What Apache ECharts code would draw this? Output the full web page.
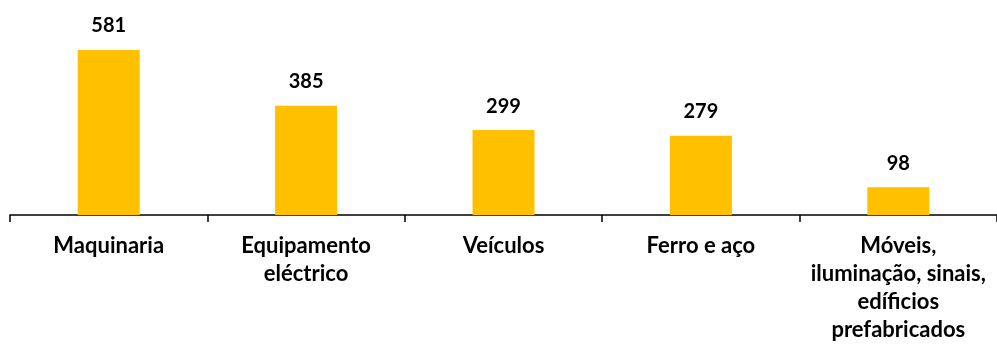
<!DOCTYPE html>
<html><head><meta charset="utf-8">
<script src="https://cdn.jsdelivr.net/npm/echarts@6/dist/echarts.min.js"></script>
<style>html,body{margin:0;padding:0;background:#fff}#c{width:997px;height:345px}</style>
</head><body><div id="c"></div>
<script>
const categories = ["Maquinaria", "Equipamento\neléctrico", "Veículos", "Ferro e aço", "Móveis,\niluminação, sinais,\nedíficios\nprefabricados"];
const values = [581, 385, 299, 279, 98];

const chart = echarts.init(document.getElementById('c'));
chart.setOption({
  animation: false,
  grid: {left: 10, width: 991, top: 15, bottom: 130},
  xAxis: {
    type: 'category', data: categories,
    axisLine: {lineStyle: {color: '#000', width: 1.5}},
    axisTick: {show: true, length: 7, lineStyle: {color: '#000', width: 1.5}},
    axisLabel: {interval: 0, color: '#000', fontFamily: 'Lato', fontWeight: 'bold', fontSize: 22, lineHeight: 28, margin: 17}
  },
  yAxis: {type: 'value', min: 0, max: 704, show: false, splitLine: {show: false}},
  series: [{
    type: 'bar', data: values, barWidth: 62,
    itemStyle: {color: '#FFC000'},
    label: {show: true, position: 'top', distance: 14, color: '#000', fontFamily: 'Lato', fontWeight: 'bold', fontSize: 20}
  }]
});
</script></body></html>
